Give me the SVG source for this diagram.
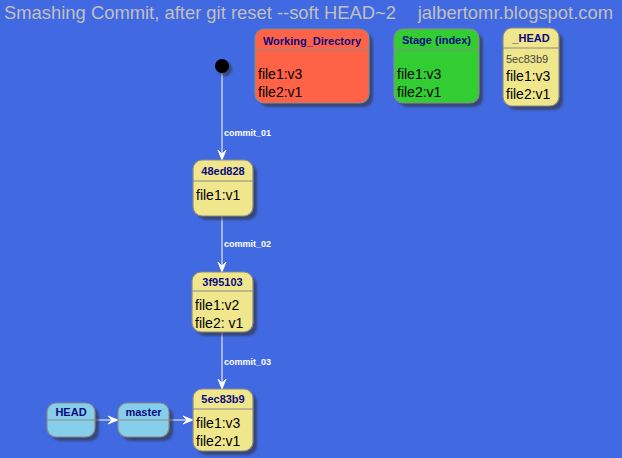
<svg xmlns="http://www.w3.org/2000/svg" width="622" height="458" viewBox="0 0 622 458">
  <style>
    .hdr { font-family: "Liberation Sans", Arial, sans-serif; font-size: 18.4px; fill: #C0C0C0; }
    .box { stroke: #8A8A8A; stroke-width: 1.2; }
    .shadow { fill: #333; opacity: 0.6; filter: url(#soft); }
    .sep { stroke: #8A8A8A; stroke-width: 1; }
    .name { font-family: "Liberation Sans", Arial, sans-serif; font-size: 11px; font-weight: bold; fill: #0A0A80; text-anchor: middle; }
    .body { font-family: "Liberation Sans", Arial, sans-serif; font-size: 14px; fill: #000; }
    .small { font-family: "Liberation Sans", Arial, sans-serif; font-size: 11px; fill: #444; }
    .lbl { font-family: "Liberation Sans", Arial, sans-serif; font-size: 9px; font-weight: bold; fill: #FFFFFF; }
    .edge { stroke: #FFFFFF; stroke-width: 1; fill: none; }
    .yellow { fill: #F0E68C; }
    .blue { fill: #87CEEB; }
  </style>
  <defs>
    <filter id="soft" x="-20%" y="-20%" width="140%" height="140%">
      <feGaussianBlur stdDeviation="0.8"/>
    </filter>
    <marker id="arrow" viewBox="0 0 10 10" refX="10" refY="5" markerWidth="10" markerHeight="10" markerUnits="userSpaceOnUse" orient="auto">
      <path d="M10,5 L0,1 L4,5 L0,9 Z" fill="#FFFFFF" stroke="#FFFFFF" stroke-width="0.8"/>
    </marker>
  </defs>

  <rect x="0" y="0" width="622" height="458" fill="#4169E1"/>

  <text class="hdr" x="4" y="19">Smashing Commit, after git reset --soft HEAD~2</text>
  <text class="hdr" x="613" y="19" text-anchor="end">jalbertomr.blogspot.com</text>

  <!-- connectors -->
  <g id="connectors">
    <line class="edge" x1="222" y1="73" x2="222" y2="160" marker-end="url(#arrow)"/>
    <text class="lbl" x="224" y="136">commit_01</text>
    <line class="edge" x1="222" y1="216" x2="222" y2="272" marker-end="url(#arrow)"/>
    <text class="lbl" x="224" y="247">commit_02</text>
    <line class="edge" x1="222" y1="332" x2="222" y2="389" marker-end="url(#arrow)"/>
    <text class="lbl" x="224" y="365">commit_03</text>
    <line class="edge" x1="95" y1="420" x2="118" y2="420" marker-end="url(#arrow)"/>
    <line class="edge" x1="169" y1="420" x2="193" y2="420" marker-end="url(#arrow)"/>
  </g>

  <!-- initial state -->
  <g id="start">
    <circle cx="225" cy="69" r="7" class="shadow"/>
    <circle cx="222" cy="66" r="7" fill="#000"/>
  </g>

  <g id="working_directory">
    <rect class="shadow" x="259" y="33" width="114" height="74" rx="9"/>
    <rect class="box" x="255" y="29" width="114" height="74" rx="9" fill="#FF6347"/>
    <line class="sep" x1="255" y1="50" x2="369" y2="50"/>
    <text class="name" x="312" y="45">Working_Directory</text>
    <text class="body" x="258" y="79">file1:v3</text>
    <text class="body" x="258" y="97">file2:v1</text>
  </g>

  <g id="stage">
    <rect class="shadow" x="398" y="33" width="85" height="74" rx="9"/>
    <rect class="box" x="394" y="29" width="85" height="74" rx="9" fill="#32CD32"/>
    <line class="sep" x1="394" y1="50" x2="479" y2="50"/>
    <text class="name" x="436.5" y="44">Stage (index)</text>
    <text class="body" x="397" y="79">file1:v3</text>
    <text class="body" x="397" y="97">file2:v1</text>
  </g>

  <g id="head_snapshot">
    <rect class="shadow" x="507" y="32" width="56" height="78" rx="9"/>
    <rect class="box yellow" x="503" y="28" width="56" height="78" rx="9"/>
    <line class="sep" x1="503" y1="48" x2="559" y2="48"/>
    <text class="name" x="531" y="42">_HEAD</text>
    <text class="small" x="506" y="63">5ec83b9</text>
    <text class="body" x="506" y="81">file1:v3</text>
    <text class="body" x="506" y="99">file2:v1</text>
  </g>

  <g id="c48ed828">
    <rect class="shadow" x="197" y="164" width="60" height="56" rx="9"/>
    <rect class="box yellow" x="193" y="160" width="60" height="56" rx="9"/>
    <line class="sep" x1="193" y1="181" x2="253" y2="181"/>
    <text class="name" x="223" y="175">48ed828</text>
    <text class="body" x="196" y="200">file1:v1</text>
  </g>

  <g id="c3f95103">
    <rect class="shadow" x="196" y="276" width="61" height="60" rx="9"/>
    <rect class="box yellow" x="192" y="272" width="61" height="60" rx="9"/>
    <line class="sep" x1="192" y1="291" x2="253" y2="291"/>
    <text class="name" x="222.5" y="286">3f95103</text>
    <text class="body" x="195" y="310">file1:v2</text>
    <text class="body" x="195" y="328">file2: v1</text>
  </g>

  <g id="c5ec83b9">
    <rect class="shadow" x="197" y="393" width="60" height="62" rx="9"/>
    <rect class="box yellow" x="193" y="389" width="60" height="62" rx="9"/>
    <line class="sep" x1="193" y1="409" x2="253" y2="409"/>
    <text class="name" x="223" y="403">5ec83b9</text>
    <text class="body" x="196" y="428">file1:v3</text>
    <text class="body" x="196" y="446">file2:v1</text>
  </g>

  <g id="HEAD">
    <rect class="shadow" x="51" y="407" width="48" height="34" rx="9"/>
    <rect class="box blue" x="47" y="403" width="48" height="34" rx="9"/>
    <line class="sep" x1="47" y1="420" x2="95" y2="420"/>
    <text class="name" x="71" y="416">HEAD</text>
  </g>

  <g id="master">
    <rect class="shadow" x="122" y="407" width="51" height="34" rx="9"/>
    <rect class="box blue" x="118" y="403" width="51" height="34" rx="9"/>
    <line class="sep" x1="118" y1="420" x2="169" y2="420"/>
    <text class="name" x="143.5" y="416">master</text>
  </g>
</svg>
